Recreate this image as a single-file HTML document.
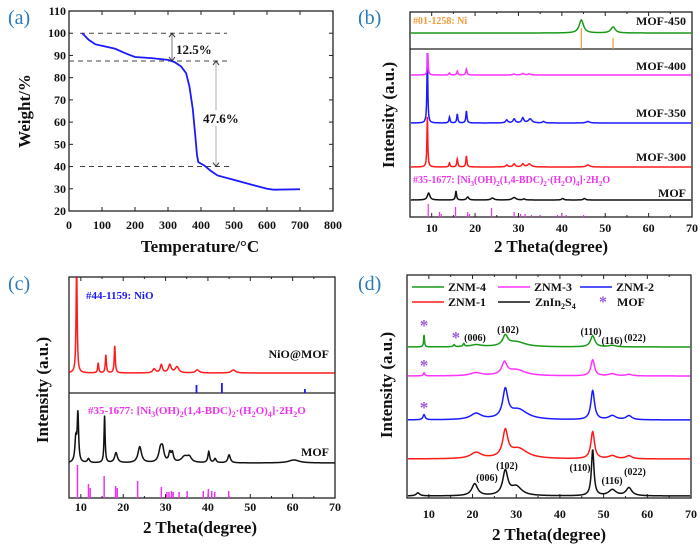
<!DOCTYPE html>
<html><head><meta charset="utf-8"><style>
html,body{margin:0;padding:0;background:#fff}
svg{display:block;font-family:"Liberation Serif",serif;font-weight:bold}
</style></head><body>
<svg id="fig" width="700" height="548" viewBox="0 0 700 548"></svg>
<script>
// ---------- Data ----------
const tgaTemp = [40,60,80,110,140,170,200,250,300,320,340,355,365,375,382,388,392,410,430,450,500,550,600,620,700];
const tgaWeight = [100,97,95,94,93,91,89.3,88.8,88,87,85,82,76,66,55,45,42,40.5,38,36,34,32,30,29.6,29.8];
const tgaTicksX = [0,100,200,300,400,500,600,700,800];
const tgaTicksY = [20,30,40,50,60,70,80,90,100,110];
const xrdTicks = [10,20,30,40,50,60,70];

// peaks: [2theta, height(px), width]
const bPeaks450 = [[44.5,13,0.6],[51.8,6,0.6]];
const bPeaks400 = [[9.1,22,0.12],[14.1,2,0.15],[15.9,4,0.15],[18,6,0.15],[29,1,0.3],[31,1.5,0.3],[32.5,1,0.4]];
const bPeaks350 = [[9.0,70,0.12],[14.1,6,0.15],[15.9,9,0.15],[18,12,0.15],[27.3,3,0.3],[29,4,0.3],[31,5,0.3],[32.7,4,0.5],[35.8,1.5,0.3],[46,1.5,0.5]];
const bPeaks300 = [[9.0,50,0.12],[14.1,4,0.15],[15.9,8,0.15],[18,11,0.15],[27.3,2,0.3],[29,3,0.3],[31,3,0.3],[32.5,3,0.5],[46,2,0.5]];
const bPeaksMOF = [[9.3,7,0.35],[15.6,9,0.15],[18.3,3,0.3],[24,2,0.4],[29,2.5,0.5],[31.3,1,0.3],[40.2,1.5,0.3],[45.2,1.5,0.3]];
const bRefNi = [[44.5,21],[51.8,11]];
const bRefMOF = [[9.2,13],[11.8,5],[12.2,3],[15.5,10],[18.3,5],[18.7,3],[23.8,9],[29,5],[30.5,3],[31.5,3],[33,2],[35,2],[39,2],[40,3],[41,2],[45,2]];

const cPeaksNiO = [[9,110,0.15],[14.1,10,0.15],[15.9,18,0.15],[18,27,0.15],[27.3,4,0.4],[29,8,0.3],[31,8,0.4],[32.7,6,0.5],[37.5,3,0.5],[46,3,0.6]];
const cPeaksMOF = [[8.8,23,0.25],[9.3,48,0.2],[11.8,4,0.3],[15.6,47,0.15],[18.3,10,0.4],[23.9,16,0.5],[28.8,13,0.5],[29.3,11,0.4],[31,9,0.3],[31.6,9,0.3],[34.5,6,0.9],[35.6,5,0.6],[40.2,11,0.25],[41.7,4,0.3],[45,8,0.35],[60.3,3,1.5]];
const cRefNiO = [[37.3,8],[43.3,10],[62.9,4]];
const cRefMOF = [[9.2,33],[11.8,14],[12.2,10],[15.5,22],[18.2,12],[18.6,10],[23.4,17],[29,11],[30.3,6],[30.8,6],[31.4,7],[31.8,6],[33.2,6],[35.1,7],[38.9,7],[40.1,9],[40.9,7],[41.6,6],[44.9,7]];

const dPeaksZNM4 = [[8.9,12,0.12],[15.8,2,0.2],[18,3,0.2],[20.8,2,1.5],[27.5,10,0.7],[30,5,2.5],[47.5,11,0.6],[52,1.5,1]];
const dPeaksZNM3 = [[8.9,3,0.2],[20.8,3,1.5],[27.3,12,0.7],[30,6,2.5],[47.5,16,0.5],[52,2,1],[55.8,1.5,0.8]];
const dPeaksZNM2 = [[8.9,5,0.3],[20.8,6,1.5],[27.5,28,0.7],[30.5,10,2.5],[47.5,29,0.5],[52,4,1],[55.8,4,0.8]];
const dPeaksZNM1 = [[20.8,6,1.5],[27.5,26,0.7],[30.5,10,2.5],[47.5,27,0.5],[52,3,1],[55.8,3,0.8]];
const dPeaksZIS = [[7.5,3,0.5],[20.5,12,0.8],[27.5,24,0.7],[30,9,1.5],[47.5,46,0.35],[52,6,1],[55.8,8,0.8]];

// ---------- Helpers ----------
const NS="http://www.w3.org/2000/svg";
const svg=document.getElementById('fig');
function mk(tag,attrs,parent){const e=document.createElementNS(NS,tag);for(const k in attrs)e.setAttribute(k,attrs[k]);(parent||svg).appendChild(e);return e;}
function txt(x,y,s,size,fill,anchor,name){const t=mk('text',{x:x,y:y,'font-size':size,fill:fill||'#111','text-anchor':anchor||'middle'});t.textContent=s;


return t;}
function lin(d0,d1,r0,r1){return v=>r0+(v-d0)/(d1-d0)*(r1-r0);}

function axesXRD(L,R,T,B,x,ticksY,name){
  const r=mk('rect',{x:L,y:T,width:R-L,height:B-T,fill:'none',stroke:'#222','stroke-width':1.3});
  
  
  for(let v=10;v<=70;v+=5){const px=x(v);const major=v%10===0;
    mk('line',{x1:px,y1:B,x2:px,y2:B-(major?4:2),stroke:'#222','stroke-width':1});
    mk('line',{x1:px,y1:T,x2:px,y2:T+(major?4:2),stroke:'#222','stroke-width':1});}
  xrdTicks.forEach(v=>txt(x(v),ticksY,String(v),12,'#111','middle','x-tick-label'));
}
function curve(peaks,base,x,lo,hi,color,name,top){
  let d='';
  for(let v=lo;v<=hi;v+=0.05){let y=base;peaks.forEach(p=>{const u=(v-p[0])/p[2];y-=p[1]/(1+u*u);});
    if(top!==undefined&&y<top)y=top;
    d+=(d?'L':'M')+x(v).toFixed(2)+','+y.toFixed(2);}
  const p=mk('path',{d:d,fill:'none',stroke:color,'stroke-width':1.5});
  
  
}
function sticks(refs,base,x,color,name,w){
  refs.forEach(r=>{const l=mk('line',{x1:x(r[0]),x2:x(r[0]),y1:base,y2:base-r[1],stroke:color,'stroke-width':w||1.5});
    
    });
}
function ytitle(x,y,s){const t=txt(0,0,s,17,'#111','middle','y-axis-title');t.setAttribute('transform',`translate(${x},${y}) rotate(-90)`);}
function plab(x,y,s){txt(x,y,s,20,'#2a7ab8','start','panel-label').setAttribute('font-weight','normal');}

// ---------- Panel (a) ----------
(function(){
  const L=69,R=333,T=11,B=211;
  const x=lin(0,800,L,R), y=lin(20,110,B,T);
  plab(8,24,'(a)');
  const r=mk('rect',{x:L,y:T,width:R-L,height:B-T,fill:'none',stroke:'#222','stroke-width':1.3});
  
  tgaTicksX.forEach(v=>{mk('line',{x1:x(v),x2:x(v),y1:B,y2:B-4,stroke:'#222'});mk('line',{x1:x(v),x2:x(v),y1:T,y2:T+4,stroke:'#222'});txt(x(v),229,String(v),12,'#111','middle','x-tick-label');});
  tgaTicksY.forEach(v=>{mk('line',{x1:L,x2:L+4,y1:y(v),y2:y(v),stroke:'#222'});mk('line',{x1:R,x2:R-4,y1:y(v),y2:y(v),stroke:'#222'});txt(L-3,y(v)+4,String(v),12,'#111','end','y-tick-label');});
  [[100,80,227],[87.5,69,229],[40,80,229]].forEach(d=>{const l=mk('line',{x1:d[1],x2:d[2],y1:y(d[0]),y2:y(d[0]),stroke:'#444','stroke-width':1,'stroke-dasharray':'5,4'});
    });
  let dd='';tgaTemp.forEach((t,i)=>{dd+=(i?'L':'M')+x(t)+','+y(tgaWeight[i]);});
  const p=mk('path',{d:dd,fill:'none',stroke:'#1a1aff','stroke-width':1.8});
  
  mk('line',{x1:172,x2:172,y1:y(100),y2:y(87.5),stroke:'#555','stroke-width':0.8});
  mk('path',{d:`M169,${y(100)+4}L172,${y(100)}L175,${y(100)+4}M169,${y(87.5)-4}L172,${y(87.5)}L175,${y(87.5)-4}`,fill:'none',stroke:'#333'});
  mk('line',{x1:216,x2:216,y1:y(87.5),y2:y(40),stroke:'#999','stroke-width':0.8});
  mk('path',{d:`M213,${y(87.5)+4}L216,${y(87.5)}L219,${y(87.5)+4}M213,${y(40)-4}L216,${y(40)}L219,${y(40)-4}`,fill:'none',stroke:'#333'});
  mk('rect',{x:200,y:110,width:34,height:16,fill:'#fff'});
  txt(176,54,'12.5%',13,'#111','start','annotation-12-5');
  txt(203,123,'47.6%',13,'#111','start','annotation-47-6');
  ytitle(30,111,'Weight/%');
  txt(200,252,'Temperature/°C',17,'#111','middle','x-axis-title');
})();

// ---------- Panel (b) ----------
(function(){
  const L=410,R=692,T=12,B=217;
  const x=lin(5,70,L,R);
  plab(358,24,'(b)');
  axesXRD(L,R,T,B,x,232,'panel-b');
  mk('line',{x1:L,x2:R,y1:49,y2:49,stroke:'#222','stroke-width':1.3});
  sticks(bRefNi,49,x,'#f39a3a','ni-ref-stick',1.2);
  sticks(bRefMOF,217,x,'#ee33ee','mof-ref-stick',1.2);
  curve(bPeaksMOF,200,x,5.2,69.8,'#111','mof-curve');
  curve(bPeaks300,167,x,5.2,69.8,'#ff1a1a','mof-300-curve');
  curve(bPeaks350,123,x,5.2,69.8,'#1a1aff','mof-350-curve',51);
  curve(bPeaks400,75,x,5.2,69.8,'#ff33ff','mof-400-curve',51);
  curve(bPeaks450,33,x,5.2,69.8,'#1a9a1a','mof-450-curve');
  txt(413,24,'#01-1258:  Ni',10,'#f39a3a','start','ni-ref-label');
  txt(686,25,'MOF-450',12,'#111','end','series-label');
  txt(686,70,'MOF-400',12,'#111','end','series-label');
  txt(686,117,'MOF-350',12,'#111','end','series-label');
  txt(686,161,'MOF-300',12,'#111','end','series-label');
  txt(686,197,'MOF',12,'#111','end','series-label');
  const t=txt(413,183,'',10,'#ee33ee','start','mof-ref-label');
  t.innerHTML='#35-1677:  [Ni<tspan font-size="7" dy="3">3</tspan><tspan dy="-3">(OH)</tspan><tspan font-size="7" dy="3">2</tspan><tspan dy="-3">(1,4-BDC)</tspan><tspan font-size="7" dy="3">2</tspan><tspan dy="-3">·(H</tspan><tspan font-size="7" dy="3">2</tspan><tspan dy="-3">O)</tspan><tspan font-size="7" dy="3">4</tspan><tspan dy="-3">]·2H</tspan><tspan font-size="7" dy="3">2</tspan><tspan dy="-3">O</tspan>';
  ytitle(394,115,'Intensity (a.u.)');
  txt(551,252,'2 Theta(degree)',17,'#111','middle','x-axis-title');
})();

// ---------- Panel (c) ----------
(function(){
  const L=69,R=335,T=277,B=498;
  const x=lin(7.2,70,L,R);
  plab(8,290,'(c)');
  axesXRD(L,R,T,B,x,511,'panel-c');
  mk('line',{x1:L,x2:R,y1:393,y2:393,stroke:'#222','stroke-width':1.3});
  sticks(cRefNiO,393,x,'#1a1aff','nio-ref-stick',1.8);
  sticks(cRefMOF,498,x,'#ee33ee','mof-ref-stick',1.5);
  curve(cPeaksNiO,373,x,7.3,69.9,'#ff1a1a','nio-mof-curve',278);
  curve(cPeaksMOF,463,x,7.3,69.9,'#111','mof-curve');
  txt(86,299,'#44-1159:  NiO',11,'#1a1aff','start','nio-ref-label');
  txt(329,358,'NiO@MOF',12,'#111','end','series-label');
  txt(329,456,'MOF',12,'#111','end','series-label');
  const t=txt(88,414,'',11,'#ee33ee','start','mof-ref-label');
  t.innerHTML='#35-1677:  [Ni<tspan font-size="8" dy="3">3</tspan><tspan dy="-3">(OH)</tspan><tspan font-size="8" dy="3">2</tspan><tspan dy="-3">(1,4-BDC)</tspan><tspan font-size="8" dy="3">2</tspan><tspan dy="-3">·(H</tspan><tspan font-size="8" dy="3">2</tspan><tspan dy="-3">O)</tspan><tspan font-size="8" dy="3">4</tspan><tspan dy="-3">]·2H</tspan><tspan font-size="8" dy="3">2</tspan><tspan dy="-3">O</tspan>';
  ytitle(48,390,'Intensity (a.u.)');
  txt(200,533,'2 Theta(degree)',17,'#111','middle','x-axis-title');
})();

// ---------- Panel (d) ----------
(function(){
  const L=407,R=691,T=275,B=498;
  const x=lin(5,70,L,R);
  plab(358,290,'(d)');
  axesXRD(L,R,T,B,x,518,'panel-d');
  curve(dPeaksZIS,496,x,5.2,69.8,'#111','znin2s4-curve');
  curve(dPeaksZNM1,459,x,5.2,69.8,'#ff1a1a','znm-1-curve');
  curve(dPeaksZNM2,420,x,5.2,69.8,'#1a1aff','znm-2-curve');
  curve(dPeaksZNM3,376,x,5.2,69.8,'#ff33ff','znm-3-curve');
  curve(dPeaksZNM4,347,x,5.2,69.8,'#1a9a1a','znm-4-curve');
  // legend
  [[412,287,'#1a9a1a','ZNM-4'],[498,287,'#ff33ff','ZNM-3'],[580,287,'#1a1aff','ZNM-2'],[412,302,'#ff1a1a','ZNM-1']].forEach(l=>{
    const ln=mk('line',{x1:l[0],x2:l[0]+32,y1:l[1],y2:l[1],stroke:l[2],'stroke-width':1.5});
    
    txt(l[0]+36,l[1]+4,l[3],12,'#111','start','legend-entry');});
  mk('line',{x1:498,x2:530,y1:302,y2:302,stroke:'#111','stroke-width':1.5});
  const zt=txt(535,306,'',12,'#111','start','legend-entry');
  zt.innerHTML='ZnIn<tspan font-size="8" dy="3">2</tspan><tspan dy="-3">S</tspan><tspan font-size="8" dy="3">4</tspan>';
  txt(603,307,'*',16,'#9b59e0','middle','legend-mof-marker');
  txt(617,306,'MOF',12,'#111','start','legend-entry');
  [[8.9,331],[16.2,343],[8.9,371],[8.9,413]].forEach(s=>txt(x(s[0]),s[1],'*',17,'#9b59e0','middle','mof-marker'));
  [[475,341,'(006)'],[508,333,'(102)'],[591,335,'(110)'],[612,344,'(116)'],[635,341,'(022)'],
   [487,481,'(006)'],[507,469,'(102)'],[580,471,'(110)'],[612,484,'(116)'],[635,475,'(022)']].forEach(a=>txt(a[0],a[1],a[2],10,'#111','middle','peak-label'));
  ytitle(392,385,'Intensity (a.u.)');
  txt(549,540,'2 Theta(degree)',17,'#111','middle','x-axis-title');
})();
</script>
</body></html>
